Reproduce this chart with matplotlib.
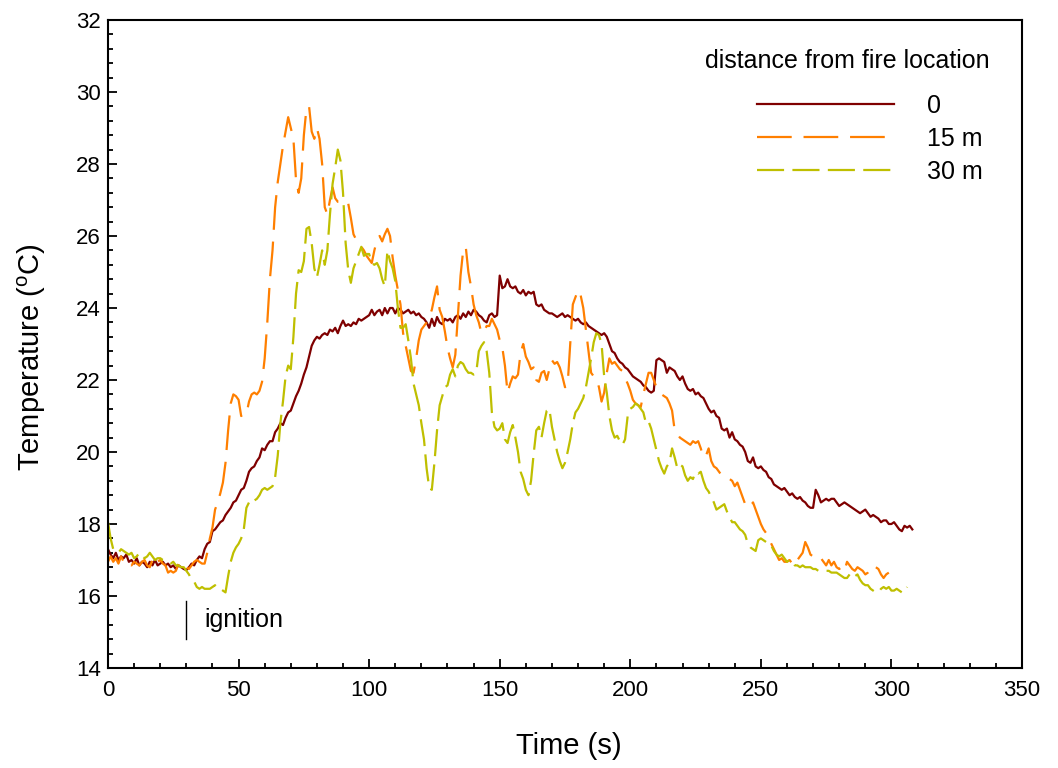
import numpy as np
import matplotlib
matplotlib.use('Agg')
import matplotlib.pyplot as plt
from matplotlib.ticker import MultipleLocator

plt.rcParams['font.family'] = ['Liberation Sans', 'DejaVu Sans']
plt.rcParams['mathtext.fontset'] = 'custom'
plt.rcParams['mathtext.rm'] = 'Liberation Sans'
plt.rcParams['mathtext.it'] = 'Liberation Sans:italic'
plt.rcParams['lines.scale_dashes'] = False

# Temperature (deg C) sampled every 1 s, starting at t = 0 s
temp_0 = [
    17.3, 17.15, 17.05, 17.2, 17.0, 17.1, 17.05, 17.15, 16.95, 17.0,
    16.9, 17.05, 16.85, 16.95, 16.9, 16.8, 16.95, 16.85, 17.0, 16.85,
    16.9, 16.95, 16.85, 16.9, 16.8, 16.85, 16.75, 16.85, 16.8, 16.75,
    16.72, 16.8, 16.9, 16.85, 17.0, 17.1, 17.05, 17.3, 17.45, 17.5,
    17.8, 17.85, 17.95, 18.05, 18.1, 18.25, 18.35, 18.45, 18.6, 18.65,
    18.8, 18.95, 19.0, 19.2, 19.45, 19.55, 19.6, 19.75, 19.85, 20.1,
    20.05, 20.2, 20.3, 20.3, 20.55, 20.65, 20.8, 20.75, 20.95, 21.1,
    21.15, 21.35, 21.55, 21.7, 21.9, 22.15, 22.35, 22.65, 22.95, 23.1,
    23.2, 23.15, 23.25, 23.3, 23.25, 23.4, 23.35, 23.45, 23.3, 23.5,
    23.65, 23.5, 23.55, 23.5, 23.6, 23.55, 23.7, 23.65, 23.7, 23.75,
    23.8, 23.95, 23.8, 23.9, 23.95, 23.8, 24.0, 23.85, 24.0, 24.0,
    23.85, 24.0, 23.95, 23.85, 23.9, 23.95, 23.85, 23.9, 23.8, 23.85,
    23.75, 23.7, 23.6, 23.45, 23.7, 23.5, 23.75, 23.6, 23.55, 23.7,
    23.65, 23.7, 23.6, 23.75, 23.8, 23.7, 23.85, 23.75, 23.9, 23.8,
    23.95, 23.9, 23.8, 23.75, 23.65, 23.6, 23.8, 23.85, 23.75, 23.8,
    24.9, 24.55, 24.6, 24.8, 24.6, 24.55, 24.6, 24.45, 24.4, 24.5,
    24.35, 24.45, 24.4, 24.45, 24.1, 24.05, 24.1, 23.95, 23.9, 23.85,
    23.85, 23.8, 23.75, 23.8, 23.85, 23.75, 23.8, 23.75, 23.7, 23.65,
    23.7, 23.6, 23.55, 23.6, 23.5, 23.45, 23.4, 23.35, 23.3, 23.25,
    23.3, 23.2, 23.0, 22.8, 22.75, 22.6, 22.5, 22.45, 22.35, 22.3,
    22.2, 22.1, 22.05, 22.0, 21.95, 21.85, 21.8, 21.7, 21.65, 21.7,
    22.55, 22.6, 22.55, 22.5, 22.2, 22.35, 22.3, 22.25, 22.1, 22.0,
    22.1, 21.9, 21.75, 21.7, 21.75, 21.6, 21.65, 21.55, 21.5, 21.35,
    21.2, 21.1, 21.15, 21.0, 20.95, 20.65, 20.6, 20.65, 20.4, 20.55,
    20.35, 20.3, 20.2, 20.15, 20.0, 19.75, 19.7, 19.85, 19.6, 19.55,
    19.6, 19.5, 19.45, 19.3, 19.25, 19.1, 19.05, 19.0, 18.95, 19.0,
    18.9, 18.8, 18.85, 18.75, 18.7, 18.75, 18.65, 18.6, 18.5, 18.45,
    18.45, 18.95, 18.8, 18.6, 18.65, 18.7, 18.65, 18.7, 18.7, 18.6,
    18.5, 18.55, 18.6, 18.55, 18.5, 18.45, 18.4, 18.35, 18.3, 18.35,
    18.4, 18.3, 18.2, 18.25, 18.2, 18.15, 18.05, 18.1, 18.1, 18.0,
    18.0, 18.05, 17.95, 17.85, 17.8, 17.95, 17.9, 17.95, 17.85,
]

temp_15 = [
    16.95, 17.1, 16.95, 17.05, 16.9, 17.1, 16.95, 17.0, 16.9, 16.85,
    16.95, 16.9, 16.85, 16.95, 17.0, 16.85, 16.8, 17.0, 16.85, 16.95,
    17.0, 16.9, 16.85, 16.65, 16.7, 16.65, 16.7, 16.9, 16.95, 16.85,
    16.8, 16.75, 16.85, 16.95, 17.0, 16.95, 16.9, 16.9, 17.2, 17.6,
    17.9, 18.4, 18.6, 18.85, 19.15, 19.7, 20.6, 21.35, 21.6, 21.55,
    21.45, 21.0, 21.05, 21.05, 21.4, 21.6, 21.65, 21.6, 21.7, 21.95,
    22.6, 23.6, 24.8, 25.6, 26.8, 27.5, 28.0, 28.5, 28.9, 29.3,
    29.0, 28.7, 27.55, 27.2, 27.6, 28.8, 29.55, 29.6, 28.9, 28.7,
    29.0, 28.7, 28.0, 26.8, 26.6, 27.0, 27.35, 27.05, 26.95, 26.95,
    26.9, 26.95, 26.9, 26.5, 26.05, 25.9, 25.75, 25.7, 25.6, 25.45,
    25.35, 25.25, 25.6, 25.9, 26.0, 25.85, 26.05, 26.2, 26.0, 25.4,
    24.9, 24.5, 24.1, 23.3, 22.95, 22.6, 22.25, 22.2, 22.6, 23.1,
    23.4, 23.5, 23.6, 23.75, 23.95, 24.3, 24.6, 23.95, 23.75, 23.35,
    22.9, 22.6, 22.35, 22.7, 23.8, 24.9, 25.6, 25.7, 25.0, 24.6,
    24.1, 23.8, 23.6, 23.3, 23.35, 23.5, 23.5, 23.7, 23.55, 23.4,
    23.1, 22.9, 22.4, 21.65, 21.9, 22.1, 22.05, 22.15, 22.75, 23.0,
    22.65, 22.5, 22.3, 22.35, 22.0, 21.95, 22.2, 22.25, 22.0, 22.3,
    22.55, 22.45, 22.5, 22.35, 22.1, 21.8, 21.85, 23.0, 24.1, 24.3,
    24.5, 24.35, 24.0, 23.4, 22.8, 22.2, 22.1, 22.05, 21.8, 21.4,
    21.65, 22.2, 22.6, 22.45, 22.5, 22.4, 22.3, 22.25, 22.05, 21.9,
    21.7, 21.45, 21.35, 21.3, 21.25, 21.6, 21.9, 22.2, 22.2, 22.0,
    21.8, 21.7, 21.6, 21.55, 21.5, 21.35, 21.15, 20.6, 20.5, 20.4,
    20.35, 20.3, 20.25, 20.2, 20.3, 20.25, 20.3, 20.1, 19.85, 19.9,
    20.1, 19.75, 19.6, 19.55, 19.45, 19.35, 19.3, 19.3, 19.25, 19.2,
    19.05, 19.15, 18.95, 18.75, 18.55, 18.45, 18.5, 18.6, 18.4, 18.2,
    18.0, 17.85, 17.75, 17.6, 17.45, 17.3, 17.15, 17.0, 17.05, 16.95,
    16.95, 17.0, 16.9, 17.05, 17.0, 17.1, 17.2, 17.5, 17.35, 17.15,
    17.1, 17.05, 17.1, 17.05, 16.95, 16.85, 17.0, 16.85, 16.95, 16.8,
    16.75, 16.8, 16.7, 16.95, 16.85, 16.75, 16.7, 16.8, 16.75, 16.7,
    16.6, 16.65, 16.75, 16.85, 16.8, 16.75, 16.6, 16.5, 16.6, 16.65,
]

temp_30 = [
    18.05, 17.6, 17.3, 17.25, 17.2, 17.3, 17.25, 17.2, 17.15, 17.2,
    17.05, 17.1, 17.2, 17.1, 17.05, 17.1, 17.2, 17.1, 17.0, 17.05,
    17.05, 17.0, 17.0, 16.95, 16.9, 16.95, 16.85, 16.85, 16.8, 16.8,
    16.7, 16.6, 16.45, 16.4, 16.25, 16.2, 16.25, 16.2, 16.2, 16.2,
    16.25, 16.3, 16.2, 16.2, 16.15, 16.1, 16.55, 16.95, 17.2, 17.35,
    17.45, 17.6, 17.85, 18.45, 18.6, 18.55, 18.65, 18.7, 18.8, 18.95,
    19.0, 18.95, 19.0, 19.05, 19.3, 19.9, 20.8, 21.4, 22.1, 22.4,
    22.3, 23.2, 24.4, 25.05, 25.0, 25.3, 26.2, 26.25, 25.8, 25.1,
    24.85, 25.2, 25.6, 25.2, 25.6, 26.6, 27.45, 27.9, 28.4, 28.1,
    27.2, 25.8, 25.05, 24.7, 25.1, 25.3, 25.5, 25.7, 25.45, 25.5,
    25.5, 25.25, 25.2, 25.25, 25.1, 24.8, 24.6, 25.6, 25.3, 25.1,
    24.75, 24.0, 23.45, 23.45, 23.55, 23.1, 22.6, 21.9, 21.6, 21.3,
    20.8, 20.35, 19.55, 19.0, 18.95, 19.7, 20.6, 21.3, 21.55, 21.8,
    21.85, 22.15, 22.3, 22.1, 22.4, 22.5, 22.45, 22.3, 22.2, 22.2,
    22.15, 22.2, 22.8, 22.95, 23.05, 22.8, 22.2, 21.1, 20.7, 20.6,
    20.65, 20.8, 20.35, 20.25, 20.55, 20.75, 20.4, 20.0, 19.45, 19.25,
    18.95, 18.8, 19.2, 19.95, 20.6, 20.7, 20.4, 20.8, 21.15, 21.2,
    20.7, 20.35, 20.0, 19.75, 19.55, 19.7, 20.0, 20.35, 20.8, 21.1,
    21.2, 21.35, 21.5, 21.8, 22.2, 22.6, 23.05, 23.3, 23.25, 23.0,
    22.1, 21.65, 21.0, 20.6, 20.4, 20.45, 20.3, 20.2, 20.35, 21.0,
    21.2, 21.25, 21.35, 21.3, 21.2, 21.1, 20.8, 20.85, 20.65, 20.35,
    20.05, 19.75, 19.55, 19.4, 19.6, 19.7, 20.1, 19.85, 19.55, 19.65,
    19.6, 19.35, 19.2, 19.3, 19.25, 19.45, 19.4, 19.45, 19.2, 19.0,
    18.9, 18.75, 18.6, 18.4, 18.45, 18.5, 18.55, 18.35, 18.2, 18.05,
    18.05, 17.95, 17.85, 17.8, 17.7, 17.45, 17.35, 17.3, 17.25, 17.55,
    17.6, 17.55, 17.5, 17.5, 17.4, 17.25, 17.15, 17.1, 17.15, 17.05,
    16.95, 17.0, 17.0, 16.85, 16.85, 16.8, 16.85, 16.8, 16.8, 16.8,
    16.75, 16.75, 16.7, 16.7, 16.7, 16.7, 16.7, 16.65, 16.65, 16.65,
    16.6, 16.55, 16.5, 16.5, 16.6, 16.65, 16.55, 16.6, 16.45, 16.35,
    16.3, 16.3, 16.2, 16.15, 16.1, 16.1, 16.2, 16.25, 16.2, 16.25,
    16.15, 16.15, 16.2, 16.15, 16.1, 16.1, 16.25,
]

series_labels = ['0', '15 m', '30 m']
series_colors = ['#7F0000', '#FF7F00', '#BFBF00']
ignition_time = 30
legend_title = 'distance from fire location'

fig = plt.figure(figsize=(10.58, 7.68), dpi=100)
ax = fig.add_axes([108 / 1058, 1 - 668 / 768, 914 / 1058, 648 / 768])

ax.plot(np.arange(len(temp_0)), temp_0, color=series_colors[0], lw=1.6,
        label=series_labels[0])
ax.plot(np.arange(len(temp_15)), temp_15, color=series_colors[1], lw=1.6,
        dashes=(25, 8.5), label=series_labels[1])
ax.plot(np.arange(len(temp_30)), temp_30, color=series_colors[2], lw=1.6,
        dashes=(19.5, 6), label=series_labels[2])

# ignition marker
ax.plot([ignition_time, ignition_time], [14.8, 15.85], color='black', lw=1)
ax.text(ignition_time + 7, 15.32, 'ignition', fontsize=18, va='center')

ax.set_xlim(0, 350)
ax.set_ylim(14, 32)
ax.xaxis.set_major_locator(MultipleLocator(50))
ax.xaxis.set_minor_locator(MultipleLocator(10))
ax.yaxis.set_major_locator(MultipleLocator(2))
ax.yaxis.set_minor_locator(MultipleLocator(0.4))
ax.tick_params(which='both', direction='in', top=False, right=False,
               labelsize=16, width=1.3)
ax.tick_params(which='major', length=6.5)
ax.tick_params(which='minor', length=3.6)
ax.tick_params(axis='x', which='major', pad=9)
ax.tick_params(axis='y', which='major', pad=5)
for s in ax.spines.values():
    s.set_linewidth(1.5)

ax.set_xlabel('Time (s)', fontsize=21)
ax.xaxis.set_label_coords(0.504, -0.099)
ax.set_ylabel('Temperature ($^{\\mathrm{o}}$C)', fontsize=21)
ax.yaxis.set_label_coords(-0.066, 0.48)

ax.text(0.653, 0.937, legend_title, transform=ax.transAxes, fontsize=18,
        va='center')
ax.legend(loc='upper left', bbox_to_anchor=(0.71, 0.886), frameon=False,
          fontsize=18, handlelength=5.5, handletextpad=1.3, labelspacing=0.36,
          borderpad=0, borderaxespad=0)

fig.savefig('out.png', dpi=100)
